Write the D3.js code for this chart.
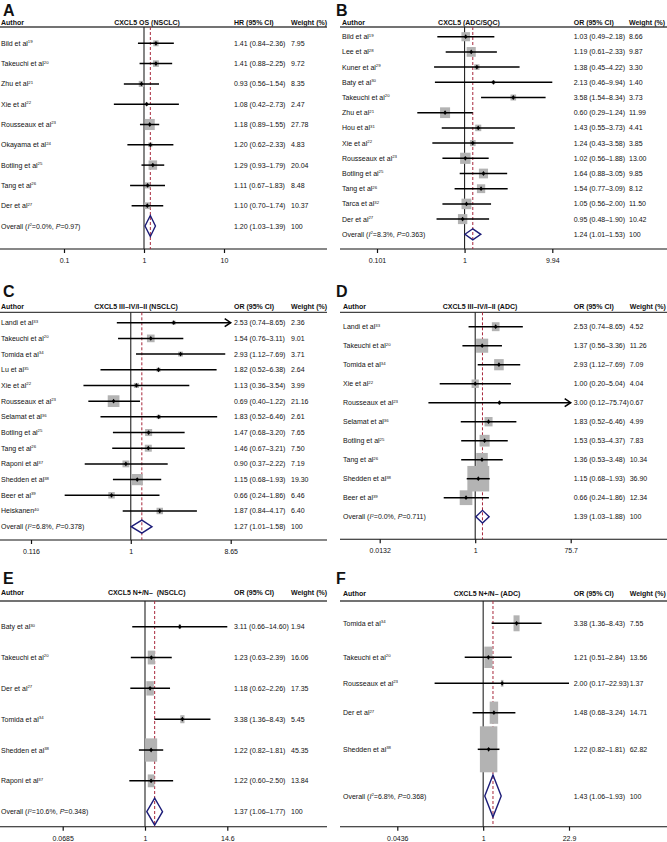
<!DOCTYPE html>
<html><head><meta charset="utf-8">
<script src="https://cdn.jsdelivr.net/npm/d3@7/dist/d3.min.js"></script>
<style>
body{margin:0;background:#fff}
svg text{font-family:"Liberation Sans",Arial,Helvetica,sans-serif;fill:#111}
</style>
</head><body>
<svg id="chart" width="667" height="842"></svg>
<script>
// ---------------- DATA ----------------
// Panel A
const authorsA = ["Bild et al","Takeuchi et al","Zhu et al","Xie et al","Rousseaux et al","Okayama et al","Botling et al","Tang et al","Der et al"];
const refsA = ["19","20","21","22","23","24","25","26","27"];
const estA = [1.41,1.41,0.93,1.08,1.18,1.20,1.29,1.11,1.10];
const loA  = [0.84,0.88,0.56,0.42,0.89,0.62,0.93,0.67,0.70];
const hiA  = [2.36,2.25,1.54,2.73,1.55,2.33,1.79,1.83,1.74];
const wA   = [7.95,9.72,8.35,2.47,27.78,4.83,20.04,8.48,10.37];
const overallA = [1.20,1.03,1.39];
const hetA = ["0.0%","0.97"];
const ticksA = [0.1,1,10];
const tickLabelsA = ["0.1","1","10"];
const titleA = "CXCL5 OS (NSCLC)";
const measureA = "HR (95% CI)";
const arrowsA = [];

// Panel B
const authorsB = ["Bild et al","Lee et al","Kuner et al","Baty et al","Takeuchi et al","Zhu et al","Hou et al","Xie et al","Rousseaux et al","Botling et al","Tang et al","Tarca et al","Der et al"];
const refsB = ["19","28","29","30","20","21","31","22","23","25","26","32","27"];
const estB = [1.03,1.19,1.38,2.13,3.58,0.60,1.43,1.24,1.02,1.64,1.54,1.05,0.95];
const loB  = [0.49,0.61,0.45,0.46,1.54,0.29,0.55,0.43,0.56,0.88,0.77,0.56,0.48];
const hiB  = [2.18,2.33,4.22,9.94,8.34,1.24,3.73,3.58,1.88,3.05,3.09,2.00,1.90];
const wB   = [8.66,9.87,3.30,1.40,3.73,11.99,4.41,3.85,13.00,9.85,8.12,11.50,10.42];
const overallB = [1.24,1.01,1.53];
const hetB = ["8.3%","0.363"];
const ticksB = [0.101,1,9.94];
const tickLabelsB = ["0.101","1","9.94"];
const titleB = "CXCL5 (ADC/SQC)";
const measureB = "OR (95% CI)";
const arrowsB = [];

// Panel C
const authorsC = ["Landi et al","Takeuchi et al","Tomida et al","Lu et al","Xie et al","Rousseaux et al","Selamat et al","Botling et al","Tang et al","Raponi et al","Shedden et al","Beer et al","Heiskanen"];
const refsC = ["33","20","34","35","22","23","36","25","26","37","38","39","40"];
const estC = [2.53,1.54,2.93,1.82,1.13,0.69,1.83,1.47,1.46,0.90,1.15,0.66,1.87];
const loC  = [0.74,0.76,1.12,0.52,0.36,0.40,0.52,0.68,0.67,0.37,0.68,0.24,0.84];
const hiC  = [8.65,3.11,7.69,6.38,3.54,1.22,6.46,3.20,3.21,2.22,1.93,1.86,4.17];
const wC   = [2.36,9.01,3.71,2.64,3.99,21.16,2.61,7.65,7.50,7.19,19.30,6.46,6.40];
const overallC = [1.27,1.01,1.58];
const hetC = ["6.8%","0.378"];
const ticksC = [0.116,1,8.65];
const tickLabelsC = ["0.116","1","8.65"];
const titleC = "CXCL5 III\u2013IV/I\u2013II (NSCLC)";
const measureC = "OR (95% CI)";
const arrowsC = ["Landi et al"];

// Panel D
const authorsD = ["Landi et al","Takeuchi et al","Tomida et al","Xie et al","Rousseaux et al","Selamat et al","Botling et al","Tang et al","Shedden et al","Beer et al"];
const refsD = ["33","20","34","22","23","36","25","26","38","39"];
const estD = [2.53,1.37,2.93,1.00,3.00,1.83,1.53,1.36,1.15,0.66];
const loD  = [0.74,0.56,1.12,0.20,0.12,0.52,0.53,0.53,0.68,0.24];
const hiD  = [8.65,3.36,7.69,5.04,75.74,6.46,4.37,3.48,1.93,1.86];
const wD   = [4.52,11.26,7.09,4.04,0.67,4.99,7.83,10.34,36.90,12.34];
const overallD = [1.39,1.03,1.88];
const hetD = ["0.0%","0.711"];
const ticksD = [0.0132,1,75.7];
const tickLabelsD = ["0.0132","1","75.7"];
const titleD = "CXCL5 III\u2013IV/I\u2013II (ADC)";
const measureD = "OR (95% CI)";
const arrowsD = ["Rousseaux et al"];

// Panel E
const authorsE = ["Baty et al","Takeuchi et al","Der et al","Tomida et al","Shedden et al","Raponi et al"];
const refsE = ["30","20","27","34","38","37"];
const estE = [3.11,1.23,1.18,3.38,1.22,1.22];
const loE  = [0.66,0.63,0.62,1.36,0.82,0.60];
const hiE  = [14.60,2.39,2.26,8.43,1.81,2.50];
const wE   = [1.94,16.06,17.35,5.45,45.35,13.84];
const overallE = [1.37,1.06,1.77];
const hetE = ["10.6%","0.348"];
const ticksE = [0.0685,1,14.6];
const tickLabelsE = ["0.0685","1","14.6"];
const titleE = "CXCL5 N+/N\u2013  (NSCLC)";
const measureE = "OR (95% CI)";
const arrowsE = [];

// Panel F
const authorsF = ["Tomida et al","Takeuchi et al","Rousseaux et al","Der et al","Shedden et al"];
const refsF = ["34","20","23","27","38"];
const estF = [3.38,1.21,2.00,1.48,1.22];
const loF  = [1.36,0.51,0.17,0.68,0.82];
const hiF  = [8.43,2.84,22.93,3.24,1.81];
const wF   = [7.55,13.56,1.37,14.71,62.82];
const overallF = [1.43,1.06,1.93];
const hetF = ["6.8%","0.368"];
const ticksF = [0.0436,1,22.9];
const tickLabelsF = ["0.0436","1","22.9"];
const titleF = "CXCL5 N+/N\u2013 (ADC)";
const measureF = "OR (95% CI)";
const arrowsF = [];

// ---------------- LAYOUT (positions / styles only) ----------------
const layout = {
  A:{letterX:3,letterY:16,authorX:1,titleX:147,ciX:234,wX:291,headY:22.5,lineY:27,lx0:0,lx1:327,axisY:249,xr:[64,224],y0:43.3,step:20.3,kw:1.9,kh:2.1,dh:21},
  B:{letterX:336,letterY:16,authorX:342,titleX:469,ciX:573.7,wX:629,headY:22.5,lineY:27,lx0:340,lx1:667,axisY:249,xr:[377,552.3],y0:36.7,step:15.2,kw:2.9,kh:3.1,dh:11},
  C:{letterX:3,letterY:297,authorX:1,titleX:136,ciX:234,wX:291,headY:306,lineY:312.3,lx0:0,lx1:327,axisY:540,xr:[31,230.7],y0:322.7,step:15.69,kw:2.55,kh:2.55,dh:13},
  D:{letterX:336,letterY:297,authorX:343,titleX:480,ciX:573.7,wX:629.7,headY:306.5,lineY:312.3,lx0:340,lx1:667,axisY:539.3,xr:[379.7,570.7],y0:326.7,step:19,kw:3.6,kh:4.2,dh:12.7},
  E:{letterX:3,letterY:584,authorX:1,titleX:146.7,ciX:234,wX:291,headY:592.7,lineY:601,lx0:0,lx1:327,axisY:826.7,xr:[62.7,227.3],y0:626.7,step:30.83,kw:1.8,kh:3.45,dh:27},
  F:{letterX:336,letterY:584,authorX:343,titleX:487,ciX:573.7,wX:629.7,headY:593,lineY:601,lx0:340,lx1:667,axisY:826.7,xr:[397.3,569],rowsY:[623.3,657.3,683.3,712.7,749.3,796],kw:2.2,kh:5.8,dh:42}
};

const panels = [
  {id:"A",authors:authorsA,refs:refsA,est:estA,lo:loA,hi:hiA,w:wA,overall:overallA,het:hetA,ticks:ticksA,tickLabels:tickLabelsA,title:titleA,measure:measureA,arrows:arrowsA},
  {id:"B",authors:authorsB,refs:refsB,est:estB,lo:loB,hi:hiB,w:wB,overall:overallB,het:hetB,ticks:ticksB,tickLabels:tickLabelsB,title:titleB,measure:measureB,arrows:arrowsB},
  {id:"C",authors:authorsC,refs:refsC,est:estC,lo:loC,hi:hiC,w:wC,overall:overallC,het:hetC,ticks:ticksC,tickLabels:tickLabelsC,title:titleC,measure:measureC,arrows:arrowsC},
  {id:"D",authors:authorsD,refs:refsD,est:estD,lo:loD,hi:hiD,w:wD,overall:overallD,het:hetD,ticks:ticksD,tickLabels:tickLabelsD,title:titleD,measure:measureD,arrows:arrowsD},
  {id:"E",authors:authorsE,refs:refsE,est:estE,lo:loE,hi:hiE,w:wE,overall:overallE,het:hetE,ticks:ticksE,tickLabels:tickLabelsE,title:titleE,measure:measureE,arrows:arrowsE},
  {id:"F",authors:authorsF,refs:refsF,est:estF,lo:loF,hi:hiF,w:wF,overall:overallF,het:hetF,ticks:ticksF,tickLabels:tickLabelsF,title:titleF,measure:measureF,arrows:arrowsF}
];

const svg = d3.select("#chart");
const FS = 7;
const fmt = v => v.toFixed(2);

panels.forEach(p => {
  const L = layout[p.id];
  const g = svg.append("g");
  const n = p.authors.length;
  const x = d3.scaleLog().domain([p.ticks[0], p.ticks[p.ticks.length-1]]).range(L.xr);
  const yOf = L.rowsY ? (i => L.rowsY[i]) : (i => d3.scaleLinear().domain([0,1]).range([L.y0, L.y0+L.step])(i));

  g.append("text").attr("x",L.letterX).attr("y",L.letterY)
    .style("font-size","16px").style("font-weight","bold").text(p.id);

  const head = g.append("g").style("font-size",FS+"px").style("font-weight","bold");
  head.append("text").attr("x",L.authorX).attr("y",L.headY+2.5).text("Author");
  head.append("text").attr("x",L.titleX).attr("y",L.headY+2.5).attr("text-anchor","middle").style("white-space","pre").text(p.title);
  head.append("text").attr("x",L.ciX).attr("y",L.headY+2.5).text(p.measure);
  head.append("text").attr("x",L.wX).attr("y",L.headY+2.5).text("Weight (%)");
  g.append("line").attr("x1",L.lx0).attr("x2",L.lx1).attr("y1",L.lineY).attr("y2",L.lineY)
    .attr("stroke","#444").attr("stroke-width",1.3);

  const axis = d3.axisBottom(x).tickValues(p.ticks).tickSize(4)
    .tickFormat((d,i) => p.tickLabels[i]);
  const ax = g.append("g").attr("transform",`translate(0,${L.axisY})`).call(axis);
  ax.select(".domain").remove();
  ax.selectAll(".tick line").attr("stroke","#111").attr("stroke-width",1.2);
  ax.selectAll(".tick text").attr("y",9).style("font-size",FS+"px").style("font-family","Liberation Sans, Arial, sans-serif").attr("fill","#111");
  g.append("line").attr("x1",L.lx0).attr("x2",L.lx1).attr("y1",L.axisY).attr("y2",L.axisY)
    .attr("stroke","#111").attr("stroke-width",1.1);

  g.append("line").attr("x1",x(1)).attr("x2",x(1)).attr("y1",L.lineY).attr("y2",L.axisY)
    .attr("stroke","#222").attr("stroke-width",1.1);
  g.append("line").attr("x1",x(p.overall[0])).attr("x2",x(p.overall[0])).attr("y1",L.lineY).attr("y2",L.axisY)
    .attr("stroke","#a8283c").attr("stroke-width",1).attr("stroke-dasharray","3,2");

  const maxV = p.ticks[p.ticks.length-1];
  const rows = d3.range(n);

  g.selectAll(".box").data(rows).join("rect")
    .attr("x", i => x(p.est[i]) - L.kw*Math.sqrt(p.w[i])/2)
    .attr("y", i => yOf(i) - L.kh*Math.sqrt(p.w[i])/2)
    .attr("width", i => L.kw*Math.sqrt(p.w[i]))
    .attr("height", i => L.kh*Math.sqrt(p.w[i]))
    .attr("fill","#b3b3b3");

  g.selectAll(".ci").data(rows).join("line")
    .attr("x1", i => x(Math.max(p.lo[i], p.ticks[0])))
    .attr("x2", i => x(Math.min(p.hi[i], maxV)))
    .attr("y1", i => yOf(i)).attr("y2", i => yOf(i))
    .attr("stroke","#000").attr("stroke-width",1.5);

  rows.filter(i => p.arrows.includes(p.authors[i])).forEach(i => {
    const xe = x(maxV), yy = yOf(i);
    g.append("path").attr("d",`M${xe-6},${yy-4}L${xe},${yy}L${xe-6},${yy+4}`)
      .attr("fill","none").attr("stroke","#000").attr("stroke-width",1.5);
  });

  g.selectAll(".pt").data(rows).join("path")
    .attr("d", i => { const cx=x(p.est[i]), cy=yOf(i); return `M${cx-1.8},${cy}L${cx},${cy-2.4}L${cx+1.8},${cy}L${cx},${cy+2.4}Z`; })
    .attr("fill","#000");

  const lab = g.selectAll(".lab").data(rows).join("text")
    .attr("x",L.authorX).attr("y", i => yOf(i)+2.5).style("font-size",FS+"px");
  lab.append("tspan").text(i => p.authors[i]);
  lab.append("tspan").attr("dy",-2.6).style("font-size","4.3px").text(i => p.refs[i]);

  g.selectAll(".est").data(rows).join("text")
    .attr("x",L.ciX).attr("y", i => yOf(i)+2.5).style("font-size",FS+"px")
    .text(i => `${fmt(p.est[i])} (${fmt(p.lo[i])}\u2013${fmt(p.hi[i])})`);
  g.selectAll(".wt").data(rows).join("text")
    .attr("x",L.wX).attr("y", i => yOf(i)+2.5).style("font-size",FS+"px")
    .text(i => fmt(p.w[i]));

  const yo = yOf(n);
  const ov = p.overall;
  g.append("path")
    .attr("d",`M${x(ov[1])},${yo}L${x(ov[0])},${yo-L.dh/2}L${x(ov[2])},${yo}L${x(ov[0])},${yo+L.dh/2}Z`)
    .attr("fill","none").attr("stroke","#1c1c78").attr("stroke-width",1.4);
  const ot = g.append("text").attr("x",L.authorX).attr("y",yo+2.5).style("font-size",FS+"px");
  ot.append("tspan").text("Overall (");
  ot.append("tspan").style("font-style","italic").text("I");
  ot.append("tspan").attr("dy",-2.6).style("font-size","4.3px").text("2");
  ot.append("tspan").attr("dy",2.6).text(`=${p.het[0]}, `);
  ot.append("tspan").style("font-style","italic").text("P");
  ot.append("tspan").text(`=${p.het[1]})`);
  g.append("text").attr("x",L.ciX).attr("y",yo+2.5).style("font-size",FS+"px")
    .text(`${fmt(ov[0])} (${fmt(ov[1])}\u2013${fmt(ov[2])})`);
  g.append("text").attr("x",L.wX).attr("y",yo+2.5).style("font-size",FS+"px").text("100");
});
</script>
</body></html>
